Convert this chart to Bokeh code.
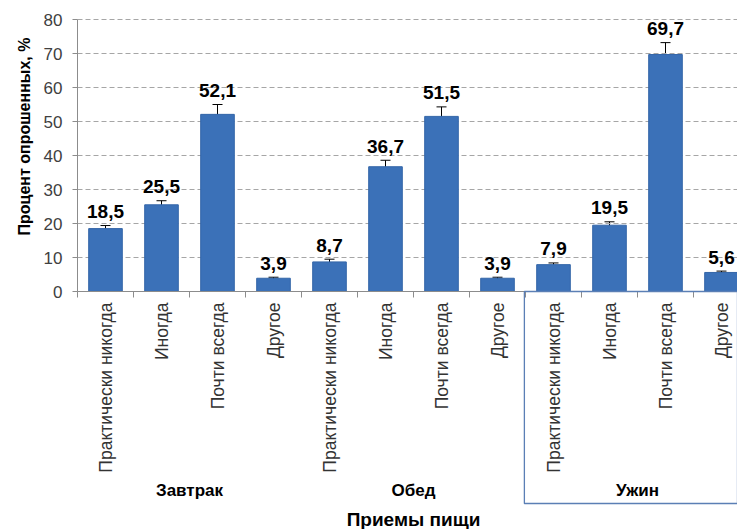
import math
from bokeh.plotting import figure
from bokeh.models import ColumnDataSource, Whisker, Range1d, TeeHead, BoxAnnotation
from bokeh.core.properties import value
from bokeh.embed import file_html
from bokeh.resources import INLINE

# ---- data ----
groups = ["Завтрак", "Обед", "Ужин"]
answers = ["Практически никогда", "Иногда", "Почти всегда", "Другое"]
values = [18.5, 25.5, 52.1, 3.9, 8.7, 36.7, 51.5, 3.9, 7.9, 19.5, 69.7, 5.6]
errors = [0.9, 1.2, 2.9, 0.3, 0.8, 1.9, 2.8, 0.3, 0.5, 1.0, 3.5, 0.4]
y_ticks = [0, 10, 20, 30, 40, 50, 60, 70, 80]
y_title = "Процент опрошенных, %"
x_title = "Приемы пищи"

n = len(values)
na = len(answers)
xs = [i + 0.5 for i in range(n)]
labels = [answers[i % na] for i in range(n)]
val_text = [("%.1f" % v).replace(".", ",") for v in values]
src = ColumnDataSource(dict(
    x=xs, top=values,
    upper=[v + e for v, e in zip(values, errors)],
    lower=[v - e for v, e in zip(values, errors)],
    txt=val_text))

# ---- layout (pixels) ----
FONT = "Liberation Sans"
W, H = 737, 529
AXIS_X, AXIS_Y, TOP_Y = 77, 291, 19     # y axis column, zero row, row of 80
PY = (AXIS_Y - TOP_Y) / 80.0            # px per y unit
PXX = 56.0                              # px per category
x_lo, x_hi = -AXIS_X / PXX, (W - AXIS_X) / PXX
y_lo, y_hi = -(H - AXIS_Y) / PY, 80 + TOP_Y / PY

p = figure(width=W, height=H, output_backend="svg", toolbar_location=None,
           x_range=Range1d(x_lo, x_hi), y_range=Range1d(y_lo, y_hi),
           min_border=0, x_axis_location=None, y_axis_location=None)
p.outline_line_color = None
p.background_fill_color = "white"
p.border_fill_color = "white"
p.grid.grid_line_color = None

AX_COL = "#8c8c8c"
grid_t = y_ticks[1:]

# dashed horizontal grid
p.segment(x0=[0] * len(grid_t), x1=[x_hi] * len(grid_t), y0=grid_t, y1=grid_t,
          line_color="#a6a6a6", line_width=1, line_dash="5 3")

# bars
p.vbar(x="x", top="top", bottom=0, width=0.6, source=src,
       fill_color="#3b71b8", line_color="#3466a8", line_width=1)

# y axis line, ticks, labels
p.segment(x0=[0], x1=[0], y0=[0], y1=[80], line_color=AX_COL, line_width=1)
p.segment(x0=[-5 / PXX] * len(y_ticks), x1=[0] * len(y_ticks),
          y0=y_ticks, y1=y_ticks, line_color=AX_COL, line_width=1)
p.text(x=[0] * len(y_ticks), y=y_ticks, text=[str(t) for t in y_ticks],
       x_offset=-15, text_align="right", text_baseline="middle",
       text_font=value(FONT), text_font_size="17px", text_color="#404040")
p.text(x=[0], y=[(AXIS_Y - 136) / PY], text=[y_title], angle=math.pi / 2,
       x_offset=-53, text_align="center", text_baseline="middle",
       text_font=value(FONT), text_font_style="bold", text_font_size="16px",
       text_color="black")

# x axis line and category boundary ticks
bounds = list(range(n + 1))
p.segment(x0=[0], x1=[x_hi], y0=[0], y1=[0], line_color=AX_COL, line_width=1)
p.segment(x0=bounds, x1=bounds, y0=[0] * len(bounds),
          y1=[-6 / PY] * len(bounds), line_color=AX_COL, line_width=1)

# error bars
p.add_layout(Whisker(base="x", upper="upper", lower="lower", source=src,
                     line_color="black", line_width=1,
                     upper_head=TeeHead(size=10, line_color="black", line_width=1),
                     lower_head=TeeHead(size=10, line_color="black", line_width=1)))

# value labels
p.text(x="x", y="upper", text="txt", source=src, text_align="center",
       text_baseline="alphabetic", y_offset=-14,
       text_font=value(FONT), text_font_style="bold",
       text_font_size="19px", text_color="black")

# category labels (rotated, reading bottom-to-top)
p.text(x=xs, y=[0] * n, text=labels, angle=math.pi / 2, y_offset=11,
       text_align="right", text_baseline="middle",
       text_font=value(FONT), text_font_size="17.5px", text_color="#333333")

# group labels
gxs = [gi * na + na / 2.0 for gi in range(len(groups))]
p.text(x=gxs, y=[0] * len(groups), text=groups, y_offset=199,
       text_align="center", text_baseline="middle",
       text_font=value(FONT), text_font_style="bold",
       text_font_size="17px", text_color="black")

# frame around the last group
p.add_layout(BoxAnnotation(left=(len(groups) - 1) * na - 0.02, top=0,
                           bottom=-(503 - AXIS_Y) / PY,
                           fill_alpha=0, line_alpha=1,
                           line_color="#5b7fb5", line_width=1.3))

# x title
p.text(x=[n / 2.0], y=[0], text=[x_title], y_offset=228,
       text_align="center", text_baseline="middle",
       text_font=value(FONT), text_font_style="bold",
       text_font_size="19px", text_color="black")

open("out.html", "w").write(file_html(p, INLINE))
